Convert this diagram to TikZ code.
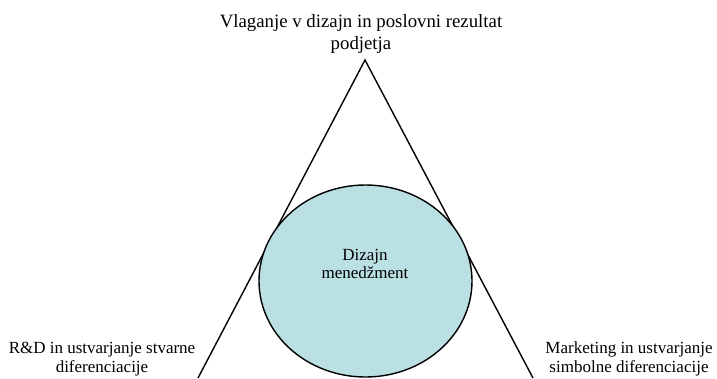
\documentclass[tikz,border=0pt]{standalone}
\usepackage{fontspec}
\setmainfont{Liberation Serif}
\usetikzlibrary{shapes.geometric}
\definecolor{dmfill}{RGB}{186,224,227}
\begin{document}
\begin{tikzpicture}[x=1pt,y=-1pt,
  lbl/.style={align=center,inner sep=0pt,font=\fontsize{17}{18.5}\selectfont},
  toplbl/.style={lbl,font=\fontsize{18.8}{22}\selectfont},
  edge/.style={line width=1.4pt,line join=miter}]
\useasboundingbox (0,0) rectangle (717,378);
% triangle sides (drawn first so the circle covers them)
\coordinate (apex) at (365,60);
\coordinate (bl) at (198,378);
\coordinate (br) at (533,378);
\draw[edge] (bl) -- (apex) -- (br);
% core circle
\node[ellipse,draw,line width=1.4pt,fill=dmfill,minimum width=213pt,minimum height=192pt,inner sep=0pt] (dm) at (365.5,281) {};
\node[lbl] (dmtext) at (365,264) {Dizajn\\menedžment};
% corner labels
\node[toplbl] (top) at (361,34) {Vlaganje v dizajn in poslovni rezultat\\podjetja};
\node[lbl] (left) at (102,359) {R\&D in ustvarjanje stvarne\\diferenciacije};
\node[lbl] (right) at (629,359) {Marketing in ustvarjanje\\simbolne diferenciacije};
\end{tikzpicture}
\end{document}
